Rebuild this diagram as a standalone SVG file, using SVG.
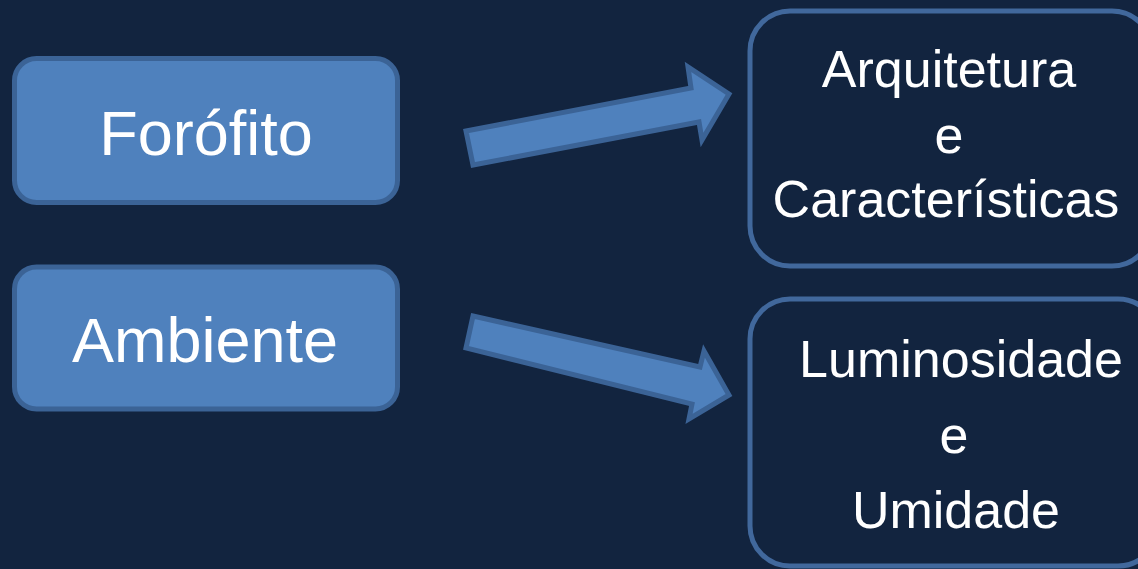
<svg xmlns="http://www.w3.org/2000/svg" width="1138" height="569" viewBox="0 0 1138 569">
<style>
.src{fill:#4f81bd;stroke:#3b6396;stroke-width:5}
.dst{fill:none;stroke:#41689c;stroke-width:5}
.arr{fill:#4f81bd;stroke:#3b6396;stroke-width:5;stroke-linejoin:miter}
text{font-family:"Liberation Sans",Arial,sans-serif;fill:#ffffff;text-anchor:middle}
.big{font-size:63px}
.mid{font-size:52px}
</style>
<rect x="0" y="0" width="1138" height="569" fill="#12243f"/>
<g id="node-forofito">
<rect class="src" x="14.5" y="58.5" width="383" height="144" rx="22"/>
<text class="big" x="206" y="155">Forófito</text>
</g>
<g id="node-ambiente">
<rect class="src" x="14.5" y="267" width="383" height="142" rx="22"/>
<text class="big" x="205" y="362">Ambiente</text>
</g>
<g id="node-arquitetura">
<rect class="dst" x="750" y="11" width="402" height="255" rx="40"/>
<text class="mid" x="949" y="87">Arquitetura</text>
<text class="mid" x="949" y="153">e</text>
<text class="mid" x="946" y="217">Características</text>
</g>
<g id="node-luminosidade">
<rect class="dst" x="750" y="299" width="408" height="267" rx="40"/>
<text class="mid" x="961" y="377">Luminosidade</text>
<text class="mid" x="954" y="453">e</text>
<text class="mid" x="956" y="528">Umidade</text>
</g>
<g id="connectors">
<polygon class="arr" points="466,131 691,88 688,67 729,94 702,140 699,122 473,165"/>
<polygon class="arr" points="473,316 700,367 704,351 729,395 689,419 692,404 466,348"/>
</g>
</svg>
